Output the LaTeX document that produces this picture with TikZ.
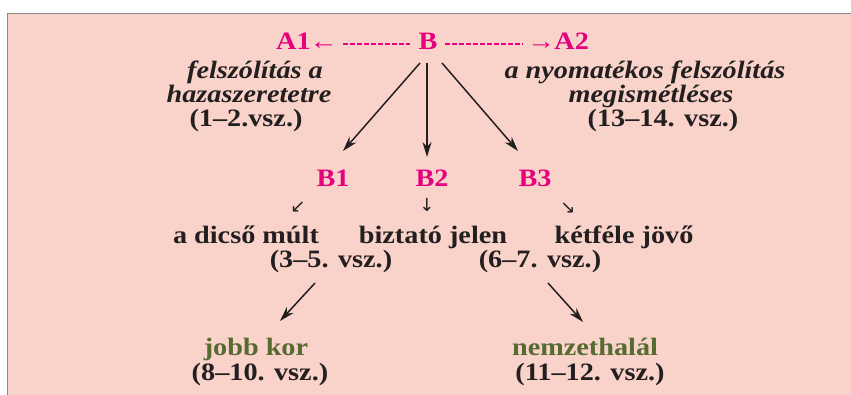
\documentclass[tikz,border=0pt]{standalone}
\usepackage{fontspec}
\setmainfont{Liberation Serif}[FakeStretch=1.13]
\newfontfamily\arrowfont{DejaVu Sans}
\usetikzlibrary{arrows.meta}
\definecolor{bgpink}{HTML}{F9D3C9}
\definecolor{magentaA}{HTML}{E5007D}
\definecolor{oliveG}{HTML}{556B2F}
\definecolor{ink}{HTML}{231F20}
\definecolor{frame}{HTML}{8A8A8A}
\tikzset{
  txt/.style={inner sep=0pt, anchor=base, text=ink, font=\fontsize{25}{27}\selectfont\bfseries},
  itxt/.style={txt, font=\fontsize{25}{27}\selectfont\bfseries\itshape},
  mag/.style={txt, text=magentaA},
  grn/.style={txt, text=oliveG},
  smallarr/.style={inner sep=0pt, text=ink, font=\arrowfont\fontsize{18}{18}\selectfont},
  arr/.style={draw=ink, line width=1.5pt, -{Stealth[length=15pt,width=9pt]}},
  dashline/.style={draw=magentaA, line width=1.6pt, dash pattern=on 4.5pt off 2.5pt}
}
\begin{document}
\begin{tikzpicture}[x=1pt,y=-1pt]
\useasboundingbox (0,0) rectangle (851,395);
\fill[white] (0,0) rectangle (851,395);
\fill[bgpink] (7,14) rectangle (851,395);
\draw[frame, line width=1pt] (7,395) -- (7,14) -- (851,14);

% top row
\node[mag] (A1) at (307,50) {A1\kern-1pt←};
\node[mag] (B) at (428,50) {B};
\node[mag] (A2) at (558,50) {→\kern-1ptA2};
\draw[dashline] (343,44) -- (410,44);
\draw[dashline] (445,44) -- (523,44);

% left and right descriptions
\node[itxt] (L1) at (255,79) {felszólítás a};
\node[itxt] (L2) at (249,103) {hazaszeretetre};
\node[txt] (L3) at (246,127) {(1–2.vsz.)};
\node[itxt] (R1) at (645,79) {a nyomatékos felszólítás};
\node[itxt] (R2) at (651,103) {megismétléses};
\node[txt] (R3) at (663,127) {(13–14. vsz.)};

% B1 B2 B3
\node[mag] (B1) at (333,187) {B1};
\node[mag] (B2) at (432,187) {B2};
\node[mag] (B3) at (535,187) {B3};

\coordinate (bl0) at (420,63);
\coordinate (bm0) at (427,63);
\coordinate (br0) at (442,63);
\coordinate (bl1) at (343,151);
\coordinate (bm1) at (427,157);
\coordinate (br1) at (518,151);
\draw[arr] (bl0) -- (bl1);
\draw[arr] (bm0) -- (bm1);
\draw[arr] (br0) -- (br1);

% small arrows
\node[smallarr] (s1) at (298,207) {↙};
\node[smallarr] (s2) at (427,205) {↓};
\node[smallarr] (s3) at (568,208) {↘};

% middle row
\node[txt] (M1) at (246,244) {a dicső múlt};
\node[txt] (M2) at (433,244) {biztató jelen};
\node[txt] (M3) at (624,244) {kétféle jövő};
\node[txt] (V1) at (331,268) {(3–5. vsz.)};
\node[txt] (V2) at (540,268) {(6–7. vsz.)};

% lower arrows
\coordinate (ll0) at (315,283);
\coordinate (ll1) at (280,321);
\coordinate (lr0) at (548,283);
\coordinate (lr1) at (583,322);
\draw[arr] (ll0) -- (ll1);
\draw[arr] (lr0) -- (lr1);

% bottom row
\node[grn] (J) at (256,355) {jobb kor};
\node[txt] (J2) at (260,380) {(8–10. vsz.)};
\node[grn] (N) at (585,355) {nemzethalál};
\node[txt] (N2) at (590,380) {(11–12. vsz.)};
\end{tikzpicture}
\end{document}
